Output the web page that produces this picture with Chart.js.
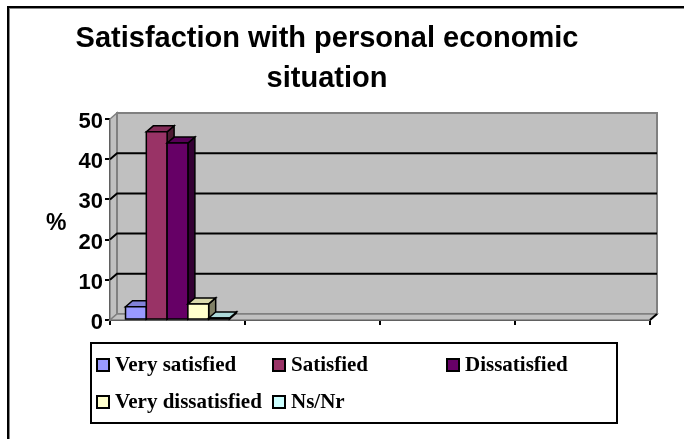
<!DOCTYPE html>
<html>
<head>
<meta charset="utf-8">
<script src="https://cdn.jsdelivr.net/npm/chart.js@4"></script>
<style>
  html, body { margin: 0; padding: 0; background: #fff; }
  #wrap { position: relative; width: 684px; height: 439px; overflow: hidden; }
  #frame { position: absolute; left: 7px; top: 6px; width: 700px; height: 460px;
           border-left: 2px solid #000; border-top: 2px solid #000;
           box-shadow: inset 1px 1px 0 #888; }
  #title { position: absolute; left: 0; top: 17px; width: 654px; text-align: center;
           font: bold 29px "Liberation Sans", Arial, sans-serif; line-height: 40px; color: #000; }
  #ylabel { position: absolute; left: 46px; top: 209px;
            font: bold 23px "Liberation Sans", Arial, sans-serif; color: #000; }
  #legend { position: absolute; left: 90px; top: 342px; width: 524px; height: 78px;
            border: 2px solid #000; box-sizing: content-box; }
  .item { position: absolute; font: bold 21px "Liberation Serif", "Times New Roman", serif;
          color: #000; white-space: nowrap; line-height: 24px; }
  .sw { display: inline-block; width: 10px; height: 10px; border: 2px solid #000;
        vertical-align: -1px; margin-right: 5px; }
  canvas { position: absolute; left: 0; top: 0; }
</style>
</head>
<body>
<div id="wrap">
  <div id="frame"></div>
  <canvas id="chart" width="684" height="439"></canvas>
  <div id="title">Satisfaction with personal economic<br>situation</div>
  <div id="ylabel">%</div>
  <div id="legend"></div>
</div>
<script>
const categories = ['', '', '', ''];
const seriesNames = ['Very satisfied', 'Satisfied', 'Dissatisfied', 'Very dissatisfied', 'Ns/Nr'];
const seriesValues = [3.3, 46.8, 44, 4, 0.5];
const seriesColors = ['#9999FF', '#993366', '#660066', '#FFFFCC', '#CCFFFF'];
const yTicks = [0, 10, 20, 30, 40, 50];

// depth of the fake 3d effect
const dx = 7, dy = 6;

function shade(hex, f) {
  const n = parseInt(hex.slice(1), 16);
  const r = Math.round(((n >> 16) & 255) * f);
  const g = Math.round(((n >> 8) & 255) * f);
  const b = Math.round((n & 255) * f);
  return `rgb(${r},${g},${b})`;
}

function poly(ctx, pts, fill, stroke, lw) {
  ctx.beginPath();
  ctx.moveTo(pts[0][0], pts[0][1]);
  for (let i = 1; i < pts.length; i++) ctx.lineTo(pts[i][0], pts[i][1]);
  ctx.closePath();
  if (fill) { ctx.fillStyle = fill; ctx.fill(); }
  if (stroke) { ctx.strokeStyle = stroke; ctx.lineWidth = lw || 1; ctx.stroke(); }
}

const walls = {
  id: 'walls',
  beforeDatasetsDraw(chart) {
    const ctx = chart.ctx;
    const { left, right, top, bottom } = chart.chartArea;
    const y = chart.scales.y;
    ctx.save();
    // side wall, back wall, floor
    poly(ctx, [[left, top], [left + dx, top - dy], [left + dx, bottom - dy], [left, bottom]], '#C0C0C0', '#808080', 1.5);
    poly(ctx, [[left + dx, top - dy], [right + dx, top - dy], [right + dx, bottom - dy], [left + dx, bottom - dy]], '#C0C0C0', '#808080', 2);
    poly(ctx, [[left, bottom], [right, bottom], [right + dx, bottom - dy], [left + dx, bottom - dy]], '#C0C0C0', '#808080', 1.5);
    // gridlines on the back wall
    ctx.strokeStyle = '#000';
    ctx.lineWidth = 2;
    yTicks.forEach(v => {
      if (v === 0 || v === 50) return;
      const py = y.getPixelForValue(v);
      ctx.beginPath();
      ctx.moveTo(left, py);
      ctx.lineTo(left + dx, py - dy);
      ctx.lineTo(right + dx, py - dy);
      ctx.stroke();
    });
    ctx.restore();
  },
  afterDatasetsDraw(chart) {
    const ctx = chart.ctx;
    ctx.save();
    ctx.lineJoin = 'miter';
    chart.data.datasets.forEach((ds, i) => {
      const meta = chart.getDatasetMeta(i);
      meta.data.forEach((el, j) => {
        if (ds.data[j] == null) return;
        const p = el.getProps(['x', 'y', 'width', 'base'], true);
        const l = p.x - p.width / 2, r = p.x + p.width / 2;
        const col = seriesColors[i];
        poly(ctx, [[r, p.y], [r + dx, p.y - dy], [r + dx, p.base - dy], [r, p.base]], shade(col, 0.5), '#000', 1.5);
        poly(ctx, [[l, p.y], [l + dx, p.y - dy], [r + dx, p.y - dy], [r, p.y]], shade(col, 0.85), '#000', 1.5);
        poly(ctx, [[l, p.y], [r, p.y], [r, p.base], [l, p.base]], col, '#000', 1.5);
      });
    });
    // front edge of the floor
    const { right, bottom } = chart.chartArea;
    ctx.strokeStyle = '#000';
    ctx.lineWidth = 2;
    ctx.beginPath();
    ctx.moveTo(right, bottom);
    ctx.lineTo(right + dx, bottom - dy);
    ctx.stroke();
    ctx.restore();
  }
};

const datasets = seriesNames.map((name, i) => ({
  label: name,
  data: categories.map((c, j) => j === 0 ? seriesValues[i] : null),
  backgroundColor: seriesColors[i],
  borderColor: '#000',
  borderWidth: 1.5,
  categoryPercentage: 0.77,
  barPercentage: 1
}));

new Chart(document.getElementById('chart'), {
  type: 'bar',
  data: { labels: categories, datasets: datasets },
  options: {
    responsive: false,
    animation: false,
    layout: { padding: { left: 0, top: 119, right: 34, bottom: 99 } },
    plugins: {
      legend: { display: false },
      title: { display: false },
      tooltip: { enabled: false }
    },
    scales: {
      x: {
        grid: { display: true, drawOnChartArea: false, offset: true, tickLength: 5, color: '#000', lineWidth: 2 },
        border: { display: true, color: '#000', width: 2 },
        ticks: { display: false },
        afterFit(scale) { scale.height = 20; }
      },
      y: {
        min: 0,
        max: 50,
        grid: { drawOnChartArea: false, tickLength: 5, color: '#000', lineWidth: 2 },
        border: { display: true, color: '#000', width: 2 },
        ticks: {
          stepSize: 10,
          padding: 2,
          labelOffset: 3,
          color: '#000',
          font: { family: '"Liberation Sans", Arial, sans-serif', size: 22, weight: 'bold' }
        },
        afterFit(scale) { scale.width = 110; }
      }
    }
  },
  plugins: [walls]
});

// legend laid out in a 3 column grid like the original
const legendEl = document.getElementById('legend');
const colX = [4, 180, 354];
seriesNames.forEach((name, i) => {
  const item = document.createElement('div');
  item.className = 'item';
  item.style.left = colX[i % 3] + 'px';
  item.style.top = (i < 3 ? 8 : 45) + 'px';
  item.innerHTML = `<span class="sw" style="background:${seriesColors[i]}"></span>${name}`;
  legendEl.appendChild(item);
});
</script>
</body>
</html>
